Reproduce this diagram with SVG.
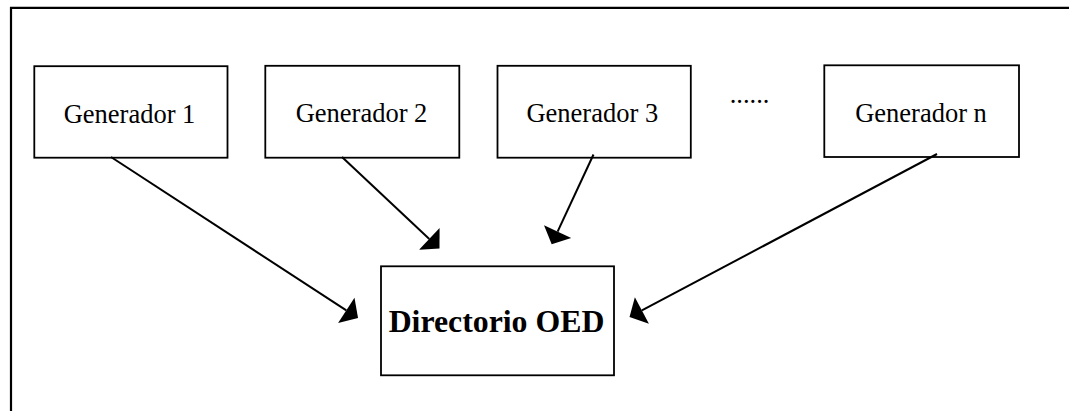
<svg xmlns="http://www.w3.org/2000/svg" width="1069" height="411" viewBox="0 0 1069 411">
  <style>
    .box { fill: #ffffff; stroke: #000000; stroke-width: 1.8; }
    .lbl { font-family: "Liberation Serif", "Times New Roman", serif; font-size: 26.5px; fill: #000000; text-anchor: middle; }
    .main { font-family: "Liberation Serif", "Times New Roman", serif; font-size: 31.8px; font-weight: bold; fill: #000000; text-anchor: middle; }
    .link { fill: none; stroke: #000000; stroke-width: 2; marker-end: url(#ah); }
    .frame { fill: none; stroke: #000000; stroke-width: 2.2; }
  </style>
  <defs>
    <marker id="ah" markerUnits="userSpaceOnUse" markerWidth="16" markerHeight="32" viewBox="0 0 16 32" refX="0" refY="16" orient="auto" overflow="visible">
      <path d="M0,1 L14,16 L0,31 Z" fill="#000000"/>
    </marker>
  </defs>

  <rect width="1069" height="411" fill="#ffffff"/>

  <!-- page frame (left and top edges) -->
  <path class="frame" d="M11,411 V7.8 H1069"/>

  <g id="gen1">
    <rect class="box" x="34.3" y="66.2" width="193.2" height="91.5"/>
    <text class="lbl" x="129.5" y="122.5">Generador 1</text>
  </g>
  <g id="gen2">
    <rect class="box" x="265.3" y="65.8" width="194" height="91.9"/>
    <text class="lbl" x="361.5" y="122.3">Generador 2</text>
  </g>
  <g id="gen3">
    <rect class="box" x="497.5" y="65.8" width="193.3" height="91.9"/>
    <text class="lbl" x="592.3" y="122.3">Generador 3</text>
  </g>
  <g id="ellipsis">
    <text class="lbl" x="749.5" y="103">......</text>
  </g>
  <g id="genN">
    <rect class="box" x="824.3" y="65.3" width="194.7" height="91.7"/>
    <text class="lbl" x="921" y="121.5">Generador n</text>
  </g>
  <g id="directorio">
    <rect class="box" x="381" y="266.3" width="233" height="109"/>
    <text class="main" x="496.5" y="332.3">Directorio OED</text>
  </g>

  <g id="connectors">
    <line class="link" x1="111" y1="157" x2="346.3" y2="310.4"/>
    <line class="link" x1="342" y1="157" x2="429.3" y2="238.9"/>
    <line class="link" x1="593.5" y1="154.5" x2="557.6" y2="231.6"/>
    <line class="link" x1="937" y1="154" x2="641.9" y2="310.4"/>
  </g>
</svg>
